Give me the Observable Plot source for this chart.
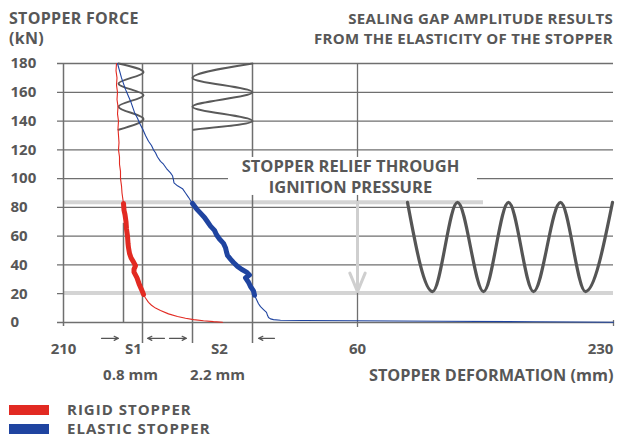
<!DOCTYPE html>
<html>
<head>
<meta charset="utf-8">
<script src="https://cdn.jsdelivr.net/npm/d3@7"></script>
<script src="https://cdn.jsdelivr.net/npm/@observablehq/plot@0.6"></script>
<style>
  html, body { margin: 0; padding: 0; background: #fff; }
  body { width: 617px; height: 438px; overflow: hidden; font-family: "Open Sans", sans-serif; color: #575757; font-weight: 700; }
  #header { position: relative; height: 50px; }
  .title { position: absolute; top: 8px; font-size: 16px; line-height: 20px; letter-spacing: 0.3px; white-space: nowrap; }
  #tl { left: 9px; }
  #tr { right: 4px; text-align: right; font-size: 15px; letter-spacing: 0.3px; }
  #legend { padding-top: 10px; }
  .row { display: flex; align-items: center; height: 19px; font-size: 15px; line-height: 19px; letter-spacing: 1px; }
  .sw { width: 40px; height: 10px; margin-left: 9px; margin-right: 18px; }
  #chart svg { display: block; }
</style>
</head>
<body>
<div id="header">
  <div class="title" id="tl">STOPPER FORCE<br>(kN)</div>
  <div class="title" id="tr">SEALING GAP AMPLITUDE RESULTS<br>FROM THE ELASTICITY OF THE STOPPER</div>
</div>
<div id="chart"></div>
<div id="legend">
  <div class="row"><div class="sw" style="background:#e22a22"></div>RIGID STOPPER</div>
  <div class="row"><div class="sw" style="background:#1f44a0"></div>ELASTIC STOPPER</div>
</div>
<script>
// ---- data (force in kN, position along schematic deformation axis) ----
const yTicks = [0, 20, 40, 60, 80, 100, 120, 140, 160, 180];
const xTickPos = [0, 70, 156, 294, 537];
const xTickLabels = ["210", "S1", "S2", "60", "230"];
const gapPos = [67, 154];
const gapLabels = ["0.8 mm", "2.2 mm"];
const axisTitlePos = [550];
const axisTitle = ["STOPPER DEFORMATION (mm)"];

// rigid stopper curve
const rigidForce = [180,175,170,165,160,155,150,145,140,135,130,125,120,115,110,105,100,95,90,85,
  82.7,78,75,70,65,60,55,52,48,45,42,39.5,37,35,31,27,23,19.5,
  17,14,12,10,8.3,6,4.2,3,2,1.2,0.6,0.2];
const rigidPos = [53,52.5,53.5,53,54,53.5,54.5,54,55,54.5,55,55.5,55,56,56,57,57,58,58.5,59.5,
  60,60.5,61.5,62.5,63,64,64.5,65,66,67.5,70,72,70.5,70.5,73.5,75.5,78,80,
  82,85,88,92,97,105,114,122,130,140,150,159];

// elastic stopper curve
const elasticForce = [180,175,170,166,162,158,154,150,146,142,138,134,130,126,123,120,118,115,112,110,107,104,102,99,97,95,93,90,87,84.8,
  82.7,79,76,73,70,67,64,61,58,55,52,49,46.6,44,41.7,39,37,35,33,31,28,25,22,
  19,16,13,11,9,7,5,3.5,2.5,2,1.6,1.4,1.2,0.9,0.5,0.2];
const elasticPos = [54,56,58,60,62,64.5,67,69,71,74,76.5,79.5,82,85,88,90,92,94,97,100,103,107,109,110,110.5,114,119,122,125,127,
  129,133,137,141,144,147,151,153,156,160,162,163,164,167,170,174,178,183,186,182,185,187,190,
  191,193,195,197,200,203,204,205,207,210,217,240,294,380,470,550];

// sealing-gap waves: extreme points
const smallWaveForce = [180, 174, 166, 158, 150, 141.5, 134];
const smallWavePos = [55, 80, 55, 80, 55, 80, 55];
const bigWaveForce = [180, 170, 160, 150, 140, 134];
const bigWavePos = [189, 129, 189, 129, 189, 130];
const gapWavePos = [344, 369, 394, 420, 445, 470, 497, 522, 549];
const gapWaveForce = [83.5, 21.5, 83.5, 21.5, 83.5, 21.5, 83.5, 21.5, 83.5];

// annotation levels
const reliefTop = 83.5, reliefBottom = 20.5;
const boxText = ["STOPPER RELIEF THROUGH", "IGNITION PRESSURE"];
const boxTextForce = [108.4, 93.8];

// gap-width arrows below the axis (from, to)
const gapArrowFrom = [38, 101, 106, 211];
const gapArrowTo = [55, 84, 123, 195];
const gapArrowLevel = -11;

const rigid = rigidForce.map((f, i) => ({f, x: rigidPos[i]}));
const elastic = elasticForce.map((f, i) => ({f, x: elasticPos[i]}));
const smallWave = smallWaveForce.map((f, i) => ({f, x: smallWavePos[i]}));
const bigWave = bigWaveForce.map((f, i) => ({f, x: bigWavePos[i]}));
const gapWave = gapWavePos.map((x, i) => ({x, f: gapWaveForce[i]}));
const gapArrows = gapArrowFrom.map((x1, i) => ({x1, x2: gapArrowTo[i]}));
const tickMap = new Map(xTickPos.map((d, i) => [d, xTickLabels[i]]));
const gapMap = new Map(gapPos.map((d, i) => [d, gapLabels[i]]));
const titleMap = new Map(axisTitlePos.map((d, i) => [d, axisTitle[i]]));

const thick = d => d.f <= 83 && d.f >= 18;
const grid = "#6f6f6f", txt = "#575757", band = "#d4d4d4";
const font = {fontSize: 15, fontWeight: 700, fill: txt};

const chart = Plot.plot({
  width: 617, height: 340,
  marginTop: 13, marginBottom: 68, marginLeft: 63, marginRight: 4,
  x: {domain: [0, 550]},
  y: {domain: [0, 180]},
  style: {fontFamily: "Open Sans", background: "white", overflow: "visible"},
  marks: [
    Plot.ruleY(yTicks, {stroke: grid, strokeWidth: 1.3, insetLeft: -6}),
    Plot.ruleY([reliefTop], {x1: 0, x2: 420, stroke: band, strokeWidth: 4}),
    Plot.ruleY([reliefBottom], {x1: 0, x2: 550, stroke: band, strokeWidth: 4}),
    Plot.ruleX([0], {stroke: grid, strokeWidth: 1.5, insetBottom: -4}),
    Plot.ruleX([294], {stroke: grid, strokeWidth: 1.3, insetBottom: -5}),
    Plot.ruleX([79, 129, 189], {stroke: grid, strokeWidth: 1.5, insetBottom: -21}),
    Plot.ruleX([60], {y1: 0, y2: reliefTop, stroke: grid, strokeWidth: 1.5, insetBottom: -21}),
    Plot.ruleX([550], {y1: 0, y2: 0, stroke: grid, strokeWidth: 1.3, insetTop: -2, insetBottom: -4}),
    Plot.rect([0], {x1: 165, x2: 414, y1: 88.3, y2: 114.7, fill: "white"}),
    Plot.text(boxText, {x: 287, y: (d, i) => boxTextForce[i], text: d => d, fontSize: 16.5, fontWeight: 700, fill: txt}),
    Plot.arrow([0], {x1: 294, x2: 294, y1: reliefTop, y2: reliefBottom + 1, stroke: "#cfcfcf", strokeWidth: 3, headLength: 10, headAngle: 45}),
    Plot.line(smallWave, {x: "x", y: "f", curve: "monotone-y", stroke: "#5a5a5a", strokeWidth: 2}),
    Plot.line(bigWave, {x: "x", y: "f", curve: "monotone-y", stroke: "#5a5a5a", strokeWidth: 2}),
    Plot.line(gapWave, {x: "x", y: "f", curve: "monotone-x", stroke: "#555", strokeWidth: 3.2}),
    Plot.line(rigid, {x: "x", y: "f", stroke: "#e22a22", strokeWidth: 1.1}),
    Plot.line(rigid.filter(thick), {x: "x", y: "f", stroke: "#e22a22", strokeWidth: 5, strokeLinejoin: "round"}),
    Plot.line(elastic, {x: "x", y: "f", stroke: "#1f44a0", strokeWidth: 1.1}),
    Plot.line(elastic.filter(thick), {x: "x", y: "f", stroke: "#1f44a0", strokeWidth: 5, strokeLinejoin: "round"}),
    Plot.arrow(gapArrows, {x1: "x1", x2: "x2", y1: gapArrowLevel, y2: gapArrowLevel, stroke: "#555", strokeWidth: 1.2, headLength: 6, headAngle: 50}),
    Plot.axisY(yTicks, {tickSize: 0, tickPadding: 0, textAnchor: "start", dx: -53, label: null, ...font}),
    Plot.axisX(xTickPos, {tickSize: 0, tickPadding: 21, tickFormat: d => tickMap.get(d), label: null, ...font}),
    Plot.axisX(gapPos, {tickSize: 0, tickPadding: 47, tickFormat: d => gapMap.get(d), label: null, ...font}),
    Plot.axisX(axisTitlePos, {tickSize: 0, tickPadding: 47, tickFormat: d => titleMap.get(d), textAnchor: "end", label: null, ...font, fontSize: 16.3})
  ]
});
document.getElementById("chart").appendChild(chart);
</script>
</body>
</html>
